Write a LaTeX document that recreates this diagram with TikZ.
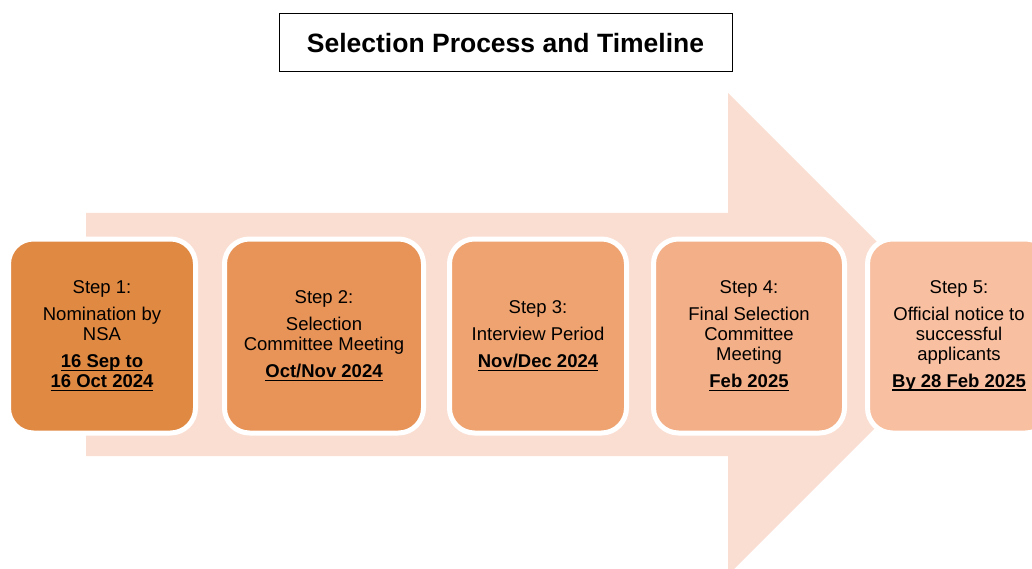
\documentclass[tikz,border=0pt]{standalone}
\usepackage{fontspec}
\setmainfont{Liberation Sans}
\usepackage{tikz}
\usetikzlibrary{shapes,arrows,calc}
\usepackage{xcolor}
\definecolor{arrowbg}{RGB}{251,222,210}
\definecolor{stepA}{RGB}{224,137,67}
\definecolor{stepB}{RGB}{232,148,88}
\definecolor{stepC}{RGB}{239,163,112}
\definecolor{stepD}{RGB}{243,175,135}
\definecolor{stepE}{RGB}{248,191,160}
\newcommand{\dl}[1]{\setbox0\hbox{\textbf{#1}}\rlap{\raisebox{-3pt}{\rule{\wd0}{1.3pt}}}\box0}
\tikzstyle{stepbox} = [rectangle, draw=white, line width=5pt, rounded corners=25pt, minimum height=194pt, align=center, text centered, inner sep=0pt, font=\fontsize{18.5}{20}\selectfont]
\tikzstyle{titlebox} = [rectangle, draw=black, line width=1pt, fill=white, minimum width=453pt, minimum height=58pt, font=\fontsize{26.5}{30}\selectfont\bfseries]
\begin{document}
\begin{tikzpicture}[x=1pt, y=-1pt]
		\useasboundingbox (0,0) rectangle (1032,569);
		\clip (0,0) rectangle (1032,569);
		% Background arrow
		\fill [arrowbg] (86,213) -- (728,213) -- (728,93) -- (969,334) -- (728,575) -- (728,456) -- (86,456) -- cycle;
		
		% Place nodes
		\node [titlebox] (title) at (505.5,43) {Selection Process and Timeline};
		\node [stepbox, fill=stepA, minimum width=187pt] (step1) at (102,336) {Step 1:\\[7pt] Nomination by\\NSA\\[7pt] \dl{16 Sep to}\\\dl{16 Oct 2024}};
		\node [stepbox, fill=stepB, minimum width=199pt] (step2) at (324,336) {Step 2:\\[7pt] Selection\\Committee Meeting\\[7pt] \dl{Oct/Nov 2024}};
		\node [stepbox, fill=stepC, minimum width=177pt] (step3) at (538,336) {Step 3:\\[7pt] Interview Period\\[7pt] \dl{Nov/Dec 2024}};
		\node [stepbox, fill=stepD, minimum width=191pt] (step4) at (749,336) {Step 4:\\[7pt] Final Selection\\Committee\\Meeting\\[7pt] \dl{Feb 2025}};
		\node [stepbox, fill=stepE, minimum width=183pt] (step5) at (959,336) {Step 5:\\[7pt] Official notice to\\successful\\applicants\\[7pt] \dl{By 28 Feb 2025}};
	\end{tikzpicture}
\end{document}
